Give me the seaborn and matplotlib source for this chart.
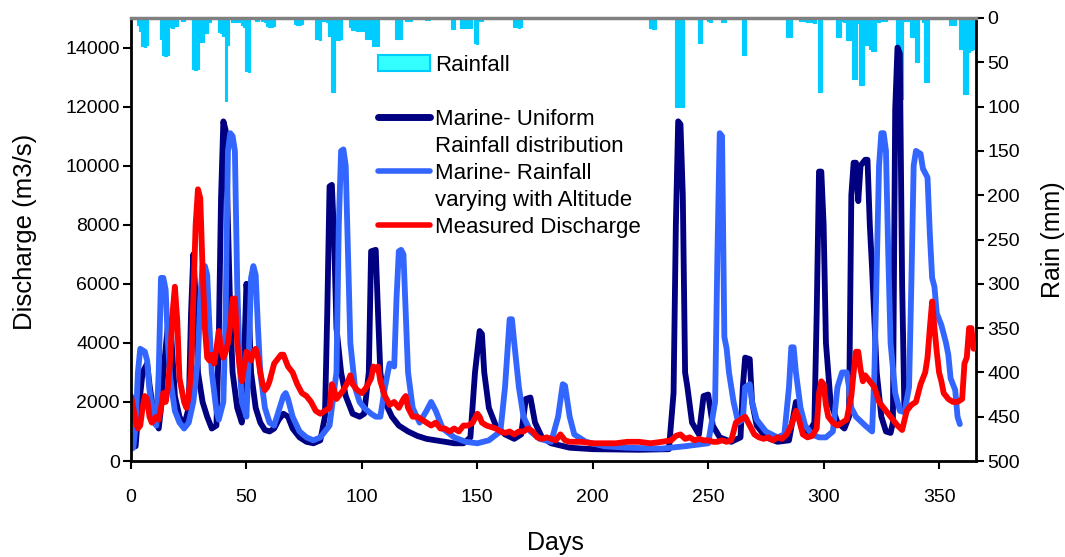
import numpy as np
import pandas as pd
import matplotlib
matplotlib.use("Agg")
import matplotlib.pyplot as plt
import seaborn as sns
from matplotlib.patches import Patch
from matplotlib.lines import Line2D

sns.set_theme(style="ticks")
plt.rcParams['font.family'] = ['Liberation Sans', 'DejaVu Sans']
plt.rcParams['text.color'] = 'black'
plt.rcParams['axes.labelcolor'] = 'black'
plt.rcParams['xtick.color'] = 'black'
plt.rcParams['ytick.color'] = 'black'

# ---------------- data ----------------
rain_days = [3, 4, 5, 6, 7, 13, 14, 15, 16, 17, 18, 19, 20, 22, 23,
             27, 28, 29, 30, 31, 32, 33, 34, 38, 39, 40, 41, 42,
             44, 45, 46, 47, 48, 49, 50, 51, 54, 55, 57, 58, 59, 60, 61, 62,
             71, 72, 73, 74, 80, 81, 82, 83, 84, 85, 86, 87, 88, 89, 90, 91,
             95, 96, 97, 98, 99, 100, 101, 102, 103, 104, 105, 106, 107,
             115, 116, 117, 119, 120, 121, 128, 129,
             139, 140, 143, 144, 145, 146, 147, 149, 150, 151, 152,
             166, 167, 168, 169, 225, 226, 227, 236, 237, 238, 239,
             246, 247, 250, 251, 256, 257, 265, 266, 284, 285, 286,
             290, 291, 292, 293, 294, 295, 296, 298, 299,
             306, 307, 308, 309, 310, 311, 312, 313, 314, 315, 316, 317, 318, 319,
             320, 321, 322, 323, 324, 325, 326, 327,
             332, 333, 334, 335, 336, 337, 338, 339, 340, 341, 343, 344, 345,
             355, 356, 357, 359, 360, 361, 362, 363, 364, 365]
rain_mm = [8, 15, 32, 33, 30, 24, 42, 43, 42, 10, 11, 9, 9, 3, 3,
           58, 59, 57, 27, 27, 17, 17, 5, 16, 17, 20, 94, 30,
           4, 4, 5, 5, 8, 10, 60, 61, 3, 3, 3, 4, 9, 10, 10, 9,
           7, 8, 8, 7, 24, 24, 25, 3, 3, 5, 20, 83, 83, 25, 25, 24,
           10, 14, 14, 15, 15, 15, 15, 24, 24, 24, 32, 32, 32,
           24, 24, 24, 3, 3, 3, 2, 2,
           12, 12, 11, 11, 11, 11, 11, 28, 29, 3, 3,
           10, 10, 11, 10, 11, 12, 12, 100, 101, 101, 100,
           28, 28, 3, 4, 5, 5, 42, 42, 21, 21, 21,
           3, 3, 3, 4, 5, 5, 6, 84, 83,
           21, 21, 3, 4, 25, 25, 25, 69, 69, 6, 76, 76, 30, 30,
           35, 37, 37, 4, 4, 3, 3, 3,
           35, 35, 91, 3, 3, 3, 21, 21, 50, 50, 5, 72, 72,
           8, 8, 8, 35, 35, 86, 86, 38, 36, 35]

uni_days = [0, 2, 3, 5, 7, 8, 10, 12, 13, 14, 16, 17, 18, 19, 21, 23, 25, 26, 27, 28, 29,
            31, 33, 35, 37, 38, 39, 40, 41, 42, 43, 44, 46, 48, 49, 50, 51, 52, 54, 56,
            58, 60, 62, 64, 66, 68, 70, 73, 76, 79, 82, 84, 85, 86, 87, 88, 89, 91, 93,
            96, 99, 101, 103, 104, 106, 107, 108, 110, 113, 116, 120, 124, 128, 132,
            136, 140, 144, 147, 149, 151, 152, 153, 155, 158, 162, 166, 169, 171, 173,
            175, 178, 182, 190, 200, 220, 233, 235, 236, 237, 238, 239, 240, 241, 243,
            246, 248, 250, 252, 255, 260, 264, 265, 266, 268, 269, 271, 275, 280, 285,
            288, 290, 293, 296, 297, 298, 299, 300, 301, 303, 306, 309, 311, 312, 313,
            314, 315, 316, 318, 319, 320, 321, 323, 325, 327, 329, 330, 331, 332, 333,
            334, 335]
uni_q = [450, 500, 1500, 3000, 3300, 2600, 1500, 1100, 1800, 3000, 4600, 4800, 3500, 2200,
         1500, 1200, 1800, 5000, 7000, 5500, 3000, 2000, 1500, 1100, 1200, 4000, 8900,
         11500, 11200, 8000, 5000, 3000, 1800, 1300, 3500, 6000, 5200, 3000, 1800, 1300,
         1050, 1000, 1100, 1400, 1600, 1500, 1100, 800, 650, 600, 700, 1500, 5000, 9300,
         9350, 7500, 4500, 3000, 2200, 1600, 1500, 1600, 3000, 7100, 7150, 5000, 3000,
         2000, 1500, 1200, 1000, 850, 750, 700, 650, 600, 600, 800, 3000, 4400, 4300,
         3000, 1800, 1200, 900, 750, 900, 2100, 2150, 1300, 800, 600, 450, 400, 380, 400,
         2300, 8000, 11500, 11400, 9000, 3000, 2500, 1300, 900, 2200, 2250, 1200, 800,
         650, 800, 2500, 3500, 3450, 2000, 1200, 800, 650, 700, 2000, 1300, 900, 1300,
         5000, 9800, 9800, 8000, 4000, 2000, 1300, 1100, 1500, 9000, 10100, 10100, 8800,
         10000, 10200, 10200, 8000, 6500, 3000, 1500, 1000, 950, 1300, 11900, 14000,
         13800, 6000, 1700]

alt_days = [0, 1, 2, 3, 4, 6, 7, 8, 10, 11, 12, 13, 14, 15, 16, 17, 19, 21, 23, 25, 27,
            29, 30, 31, 32, 33, 34, 35, 37, 38, 40, 41, 42, 43, 44, 45, 46, 47, 48, 50,
            51, 52, 53, 54, 55, 56, 58, 60, 62, 64, 66, 67, 68, 70, 73, 76, 79, 82, 86,
            89, 90, 91, 92, 93, 94, 95, 97, 99, 101, 104, 106, 108, 110, 112, 114, 115,
            116, 117, 118, 119, 120, 122, 125, 128, 130, 132, 135, 140, 145, 150, 155,
            160, 162, 164, 165, 166, 168, 170, 173, 177, 182, 185, 187, 188, 190, 192,
            197, 205, 215, 230, 240, 245, 250, 253, 254, 255, 256, 257, 258, 259, 261,
            263, 265, 266, 268, 269, 271, 275, 280, 283, 285, 286, 287, 288, 290, 292,
            295, 298, 301, 304, 306, 308, 310, 311, 312, 314, 318, 321, 322, 323, 324,
            325, 326, 327, 328, 329, 331, 333, 335, 337, 338, 339, 340, 342, 343, 345,
            346, 347, 348, 349, 351, 353, 354, 355, 357, 358, 359]
alt_q = [400, 450, 1200, 3000, 3800, 3700, 3400, 2400, 1300, 1200, 3000, 6200, 6200, 5800,
         4000, 2800, 1700, 1300, 1100, 1300, 2000, 3500, 5500, 6600, 6600, 6300, 4500,
         3000, 1700, 1400, 2000, 5000, 10500, 11100, 11000, 10500, 6000, 3500, 2000, 1500,
         3500, 6200, 6600, 6300, 4500, 3000, 1800, 1300, 1200, 1700, 2200, 2300, 2100,
         1500, 1000, 800, 700, 800, 1200, 3000, 8000, 10500, 10550, 10000, 7000, 4000,
         2500, 2000, 1800, 1600, 1500, 1500, 2500, 3300, 3200, 5500, 7100, 7150, 7000,
         5000, 3000, 1800, 1300, 1700, 2000, 1700, 1100, 800, 650, 600, 700, 1000, 2500,
         4800, 4800, 4000, 2500, 1500, 1000, 750, 650, 1500, 2600, 2550, 1500, 900, 650,
         500, 450, 420, 500, 550, 600, 2000, 7000, 11100, 11000, 4200, 3800, 3000, 2000,
         1300, 1400, 2500, 2600, 2000, 1400, 1000, 800, 900, 2500, 3850, 3850, 3000, 1800,
         1200, 900, 800, 800, 1000, 2500, 3000, 3000, 2500, 1800, 1500, 1200, 1000, 3000,
         6500, 10000, 11100, 11100, 10500, 7000, 4000,
         2300, 1700, 1650, 2500, 6000, 10000, 10500, 10400, 9900, 9600,
         7700, 6200, 5900, 5000, 4600, 4000, 3600, 2800, 2400, 1500, 1250]

obs_days = [0, 1, 2, 3, 4, 5, 6, 7, 8, 9, 10, 11, 12, 13, 14, 15, 16, 17, 18, 19, 20, 21,
            22, 23, 24, 25, 26, 27, 28, 29, 30, 31, 32, 33, 34, 35, 36, 37, 38, 39, 40,
            41, 42, 43, 44, 45, 46, 47, 48, 49, 50, 51, 52, 53, 54, 55, 56, 57, 58, 59,
            60, 61, 62, 63, 64, 65, 66, 67, 68, 70, 72, 74, 76, 78, 80, 82, 84, 86, 87,
            88, 89, 90, 92, 94, 95, 96, 98, 100, 102, 104, 105, 106, 107, 108, 110, 112,
            114, 116, 118, 119, 120, 122, 124, 126, 128, 130, 132, 134, 136, 138, 140,
            142, 144, 146, 148, 150, 151, 152, 154, 156, 158, 160, 162, 164, 166, 168,
            170, 172, 174, 176, 178, 180, 182, 184, 186, 188, 190, 195, 200, 205, 210,
            215, 220, 225, 230, 234, 236, 238, 240, 242, 244, 246, 248, 250, 252, 254,
            256, 258, 260, 262, 264, 266, 268, 270, 272, 274, 276, 278, 280, 282, 284,
            286, 288, 289, 291, 293, 295, 297, 298, 299, 300, 301, 302, 304, 306, 308,
            310, 312, 313, 314, 315, 316, 317, 318, 320, 322, 324, 326, 328, 330, 332,
            334, 336, 338, 340, 342, 344, 345, 346, 347, 348, 349, 350, 351, 352, 354,
            356, 358, 360, 361, 362, 363, 364, 365]
obs_q = [2200, 1800, 1300, 1100, 1200, 1800, 2200, 2100, 1500, 1300, 1400, 1500, 1400,
         1800, 2300, 2000, 2500, 3500, 5000, 5900, 4800, 2800, 2400, 2000, 1800, 2200,
         3000, 5500, 8000, 9200, 8900, 6500, 4500, 3500, 3400, 3600, 3300, 3800, 4400,
         3800, 3500, 3700, 4000, 4600, 5500, 5500, 4000, 3200, 2700, 3200, 3700, 3600,
         3400, 3700, 3800, 3500, 3000, 2600, 2400, 2500, 2700, 3000, 3300, 3400, 3500,
         3600, 3600, 3400, 3200, 3000, 2600, 2300, 2200, 2000, 1700, 1600, 1700, 1800,
         2600, 2400, 2100, 2200, 2400, 2700, 2900, 2600, 2400, 2300, 2500, 2800, 3200,
         3100, 3200, 2700, 2200, 1900, 2000, 1800, 2100, 2200, 1800, 1500, 1500, 1400,
         1300, 1200, 1300, 1100, 1100, 1000, 1100, 1000, 1200, 1200, 1300, 1600, 1500,
         1300, 1200, 1150, 1100, 1000, 950, 1000, 900, 1000, 1000, 1100, 1000, 800, 750,
         800, 750, 700, 900, 700, 650, 650, 600, 600, 600, 650, 650, 600, 650, 700, 850,
         900, 750, 800, 700, 750, 700, 700, 650, 650, 700, 650, 700, 1300, 1400, 1500,
         1200, 900, 800, 750, 800, 700, 800, 750, 900, 1200, 1700, 1500, 900, 800, 850,
         1100, 2300, 2700, 2600, 1900, 1500, 1300, 1200, 1300, 1400, 2200, 3000, 3700,
         3700, 3100, 2700, 2900, 2700, 2500, 2000, 1800, 1600, 1400, 1200, 1050, 1700,
         1900, 2000, 2600, 3000, 3500, 4500, 5400, 4500, 3700, 3000, 2700, 2300, 2100,
         2000, 2000, 2100, 3300, 3500, 4500, 4500, 3800]

x_ticks = [0, 50, 100, 150, 200, 250, 300, 350]
q_ticks = [0, 2000, 4000, 6000, 8000, 10000, 12000, 14000]
rain_ticks = [0, 50, 100, 150, 200, 250, 300, 350, 400, 450, 500]

rain_df = pd.DataFrame({'day': rain_days, 'rain': rain_mm})

# ---------------- figure ----------------
fig = plt.figure(figsize=(10.65, 5.57), dpi=100)
ax = fig.add_axes([131 / 1065, 96 / 557, 845 / 1065, 443 / 557])
ax2 = ax.twinx()

sns.histplot(data=rain_df, x='day', weights='rain', binwidth=1, binrange=(0.5, 365.5),
             ax=ax2, color='#00CCFF', alpha=1, edgecolor='#00CCFF', linewidth=0.8)

sns.lineplot(x=uni_days, y=uni_q, ax=ax, color='#000080', lw=4.2)
sns.lineplot(x=alt_days, y=alt_q, ax=ax, color='#3366FF', lw=4.2)
sns.lineplot(x=obs_days, y=obs_q, ax=ax, color='#FF0000', lw=4.2)

ax.set_zorder(ax2.get_zorder() + 1)
ax.patch.set_visible(False)

ax.set_xlim(0, 366)
ax.set_ylim(0, 15000)
ax2.set_ylim(500, 0)
ax.set_xticks(x_ticks)
ax.set_yticks(q_ticks)
ax2.set_yticks(rain_ticks)

ax.tick_params(axis='both', direction='out', length=6, width=1.5, labelsize=14)
ax.tick_params(axis='x', pad=14)
ax.tick_params(axis='y', pad=2)
ax2.tick_params(axis='y', direction='out', length=6, width=1.5, labelsize=14, pad=2)

for s in ['left', 'bottom']:
    ax.spines[s].set_color('black')
    ax.spines[s].set_linewidth(2)
ax.spines['top'].set_visible(True)
ax.spines['top'].set_color('#808080')
ax.spines['top'].set_linewidth(2.5)
ax.spines['right'].set_visible(False)
for s in ['left', 'top', 'bottom']:
    ax2.spines[s].set_visible(False)
ax2.spines['right'].set_visible(True)
ax2.spines['right'].set_color('black')
ax2.spines['right'].set_linewidth(2)

ax.set_xlabel('Days', fontsize=18)
ax.set_ylabel('Discharge (m3/s)', fontsize=18.5)
ax2.set_ylabel('Rain (mm)', fontsize=18)
ax.xaxis.set_label_coords(0.502, -0.158)
ax.yaxis.set_label_coords((37 - 131) / 845, 0.517)
ax2.yaxis.set_label_coords((1041 - 131) / 845, 0.50)

blank = Line2D([], [], alpha=0)
handles = [Patch(facecolor='#33FFFF', edgecolor='#00CCFF', linewidth=1.5), blank,
           Line2D([], [], color='#000080', lw=5), blank,
           Line2D([], [], color='#3366FF', lw=4), blank,
           Line2D([], [], color='#FF0000', lw=4)]
labels = ['Rainfall', ' ', 'Marine- Uniform', 'Rainfall distribution',
          'Marine- Rainfall', 'varying with Altitude', 'Measured Discharge']
ax.legend(handles, labels, loc='upper left', bbox_to_anchor=(0.2923, 0.9165),
          frameon=False, fontsize=16, handlelength=2.35, handletextpad=0.2,
          labelspacing=0.27, borderpad=0, borderaxespad=0)

fig.savefig('out.png', dpi=100)
